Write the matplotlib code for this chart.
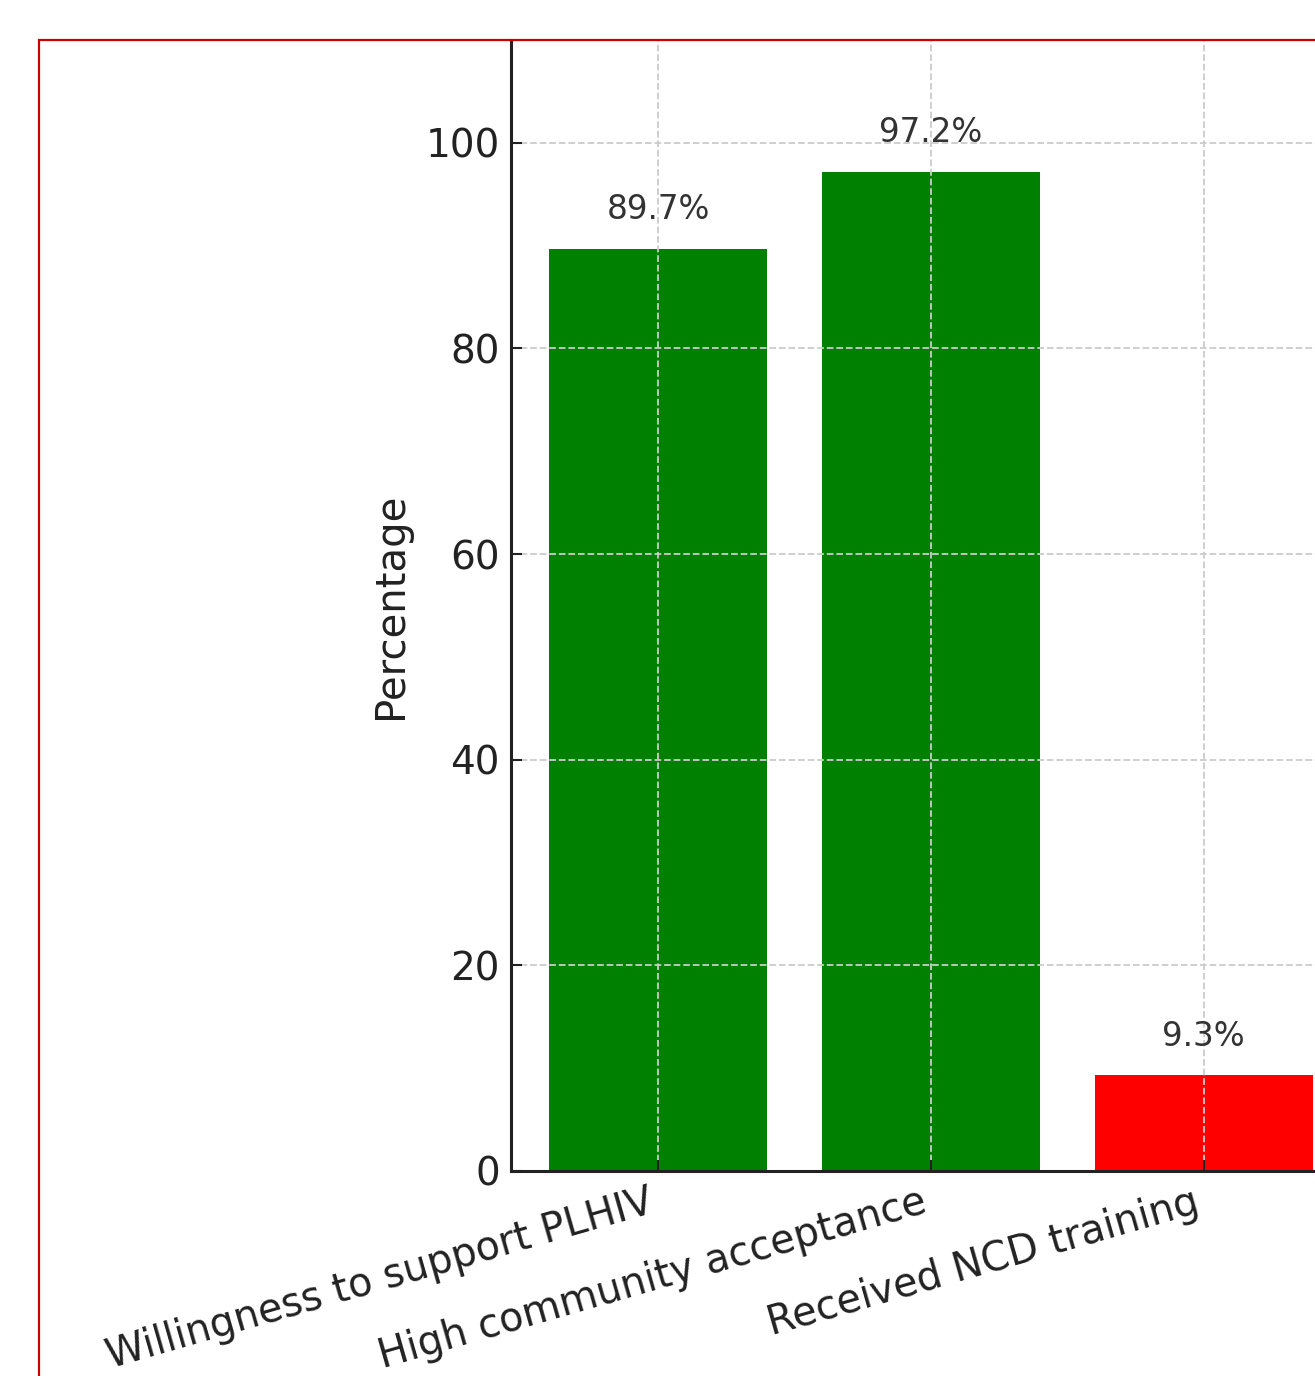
import matplotlib
matplotlib.use("Agg")
import matplotlib.pyplot as plt
from matplotlib.patches import Rectangle

categories = ["Willingness to support PLHIV", "High community acceptance", "Received NCD training"]
values = [89.7, 97.2, 9.3]
bar_colors = ["green", "green", "red"]
y_ticks = [0, 20, 40, 60, 80, 100]

W, H = 1315, 1376
DPI = 100
fig = plt.figure(figsize=(W / DPI, H / DPI), dpi=DPI)
fig.patch.set_facecolor("white")

# Axes placed in pixel terms; the plot runs past the right edge of the canvas
left, right = 511, 1351
top, bottom = 40, 1171
ax = fig.add_axes([left / W, (H - bottom) / H, (right - left) / W, (bottom - top) / H])

x = list(range(len(categories)))
ax.bar(x, values, width=0.8, color=bar_colors)

for xi, v in zip(x, values):
    ax.text(xi, v + 2.2, f"{v}%", ha="center", va="bottom", fontsize=23.5, color="#333333")

ax.set_xlim(-0.54, 2.54)
ax.set_ylim(0, 110)
ax.set_yticks(y_ticks)
ax.set_xticks(x)
ax.set_xticklabels(categories, rotation=16, ha="right", fontsize=28.5)
ax.set_ylabel("Percentage", fontsize=29, color="#222222", labelpad=10.5)

ax.tick_params(axis="both", direction="in", length=8, width=1.5, colors="#222222",
               labelcolor="#222222", pad=8)
ax.tick_params(axis="y", labelsize=28)
ax.grid(True, linestyle="--", color="#cccccc", linewidth=1.3)
ax.set_axisbelow(False)

for side in ("top", "right"):
    ax.spines[side].set_visible(False)
for side in ("left", "bottom"):
    ax.spines[side].set_linewidth(2.2)
    ax.spines[side].set_color("#222222")
    ax.spines[side].set_zorder(5)

# Red frame around the figure
fig.patches.append(Rectangle((38.5 / W, -0.1), 2.0, (H - 40.5) / H + 0.1,
                             transform=fig.transFigure, fill=False,
                             edgecolor="#cc0000", linewidth=1.6, zorder=10))

fig.savefig("out.png", dpi=DPI)
